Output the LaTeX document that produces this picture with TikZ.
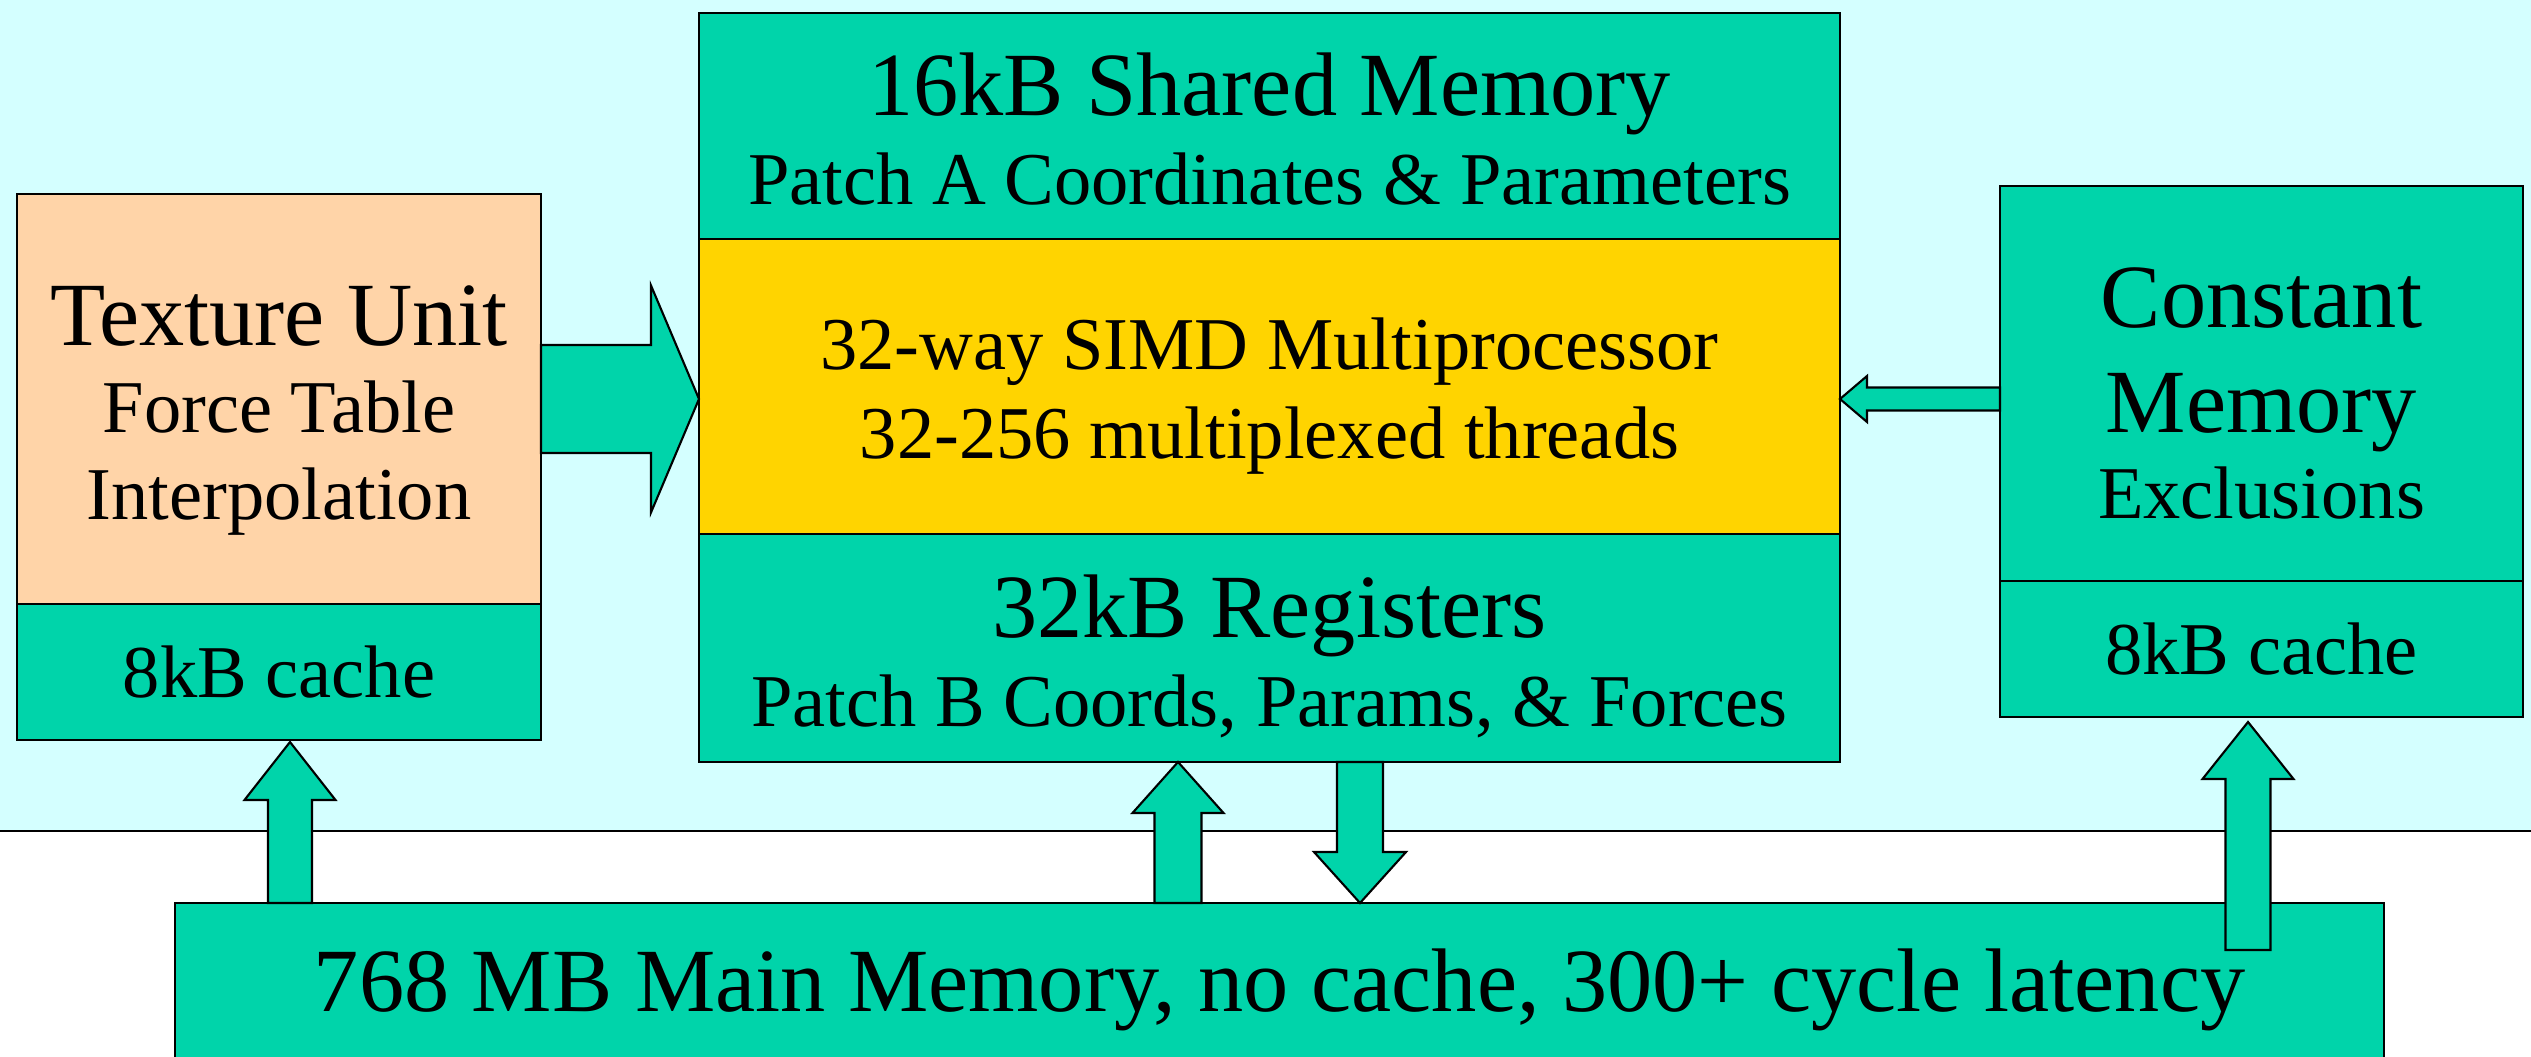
\documentclass[tikz,border=0pt]{standalone}
\usepackage{fontspec}
\setmainfont{Liberation Serif}
\usetikzlibrary{calc,positioning}

\definecolor{bandcyan}{RGB}{212,255,255}
\definecolor{memteal}{RGB}{0,212,170}
\definecolor{simdgold}{RGB}{255,212,0}
\definecolor{texpeach}{RGB}{255,212,168}

\newcommand{\bigline}{\fontsize{25.7pt}{25.3pt}\selectfont}
\newcommand{\smallline}{\fontsize{21.2pt}{25.3pt}\selectfont}
% invisible strut on a first line, pushes the text block down by #1
\newcommand{\lowerby}[1]{\rule{0pt}{\dimexpr\fontcharht\font`k+2\dimexpr#1\relax\relax}}

% block arrow: tail, tip, shaft half width, head half width, head length
\newcommand{\fatarrow}[5]{%
  \coordinate (neck) at ($(#2)!#5!(#1)$);
  \filldraw[memarrow] ($(#1)!#3!90:(#2)$) -- ($(neck)!#3!90:(#2)$)
    -- ($(neck)!#4!90:(#2)$) -- (#2) -- ($(neck)!#4!-90:(#2)$)
    -- ($(neck)!#3!-90:(#2)$) -- ($(#1)!#3!-90:(#2)$) -- cycle;
}

\begin{document}
\begin{tikzpicture}[
    box/.style = {draw, fill=memteal, line width=0.6pt, inner sep=0pt,
              outer sep=0pt, align=center, font=\smallline},
    memarrow/.style = {fill=memteal, draw=black, line width=0.6pt},
    ]

\clip (0,0) rectangle (25.31,10.56);
\fill[bandcyan] (0,2.25) rectangle (25.31,10.56);
\draw[line width=0.6pt] (0,2.25) -- (25.31,2.25);

\node[box, fill=texpeach, minimum width=5.24cm, minimum height=4.10cm] (texture) at (2.79,6.57)
    {{\bigline\lowerby{0.12cm}Texture Unit}\\[-0.02cm]Force Table\\[-0.02cm]Interpolation};
\node[box, minimum width=5.24cm, minimum height=1.36cm, below=0pt of texture] (texcache) {8kB cache};

\node[box, minimum width=11.41cm, minimum height=2.26cm] (shared) at (12.695,9.30)
    {{\bigline\lowerby{0.05cm}16kB Shared Memory}\\Patch A Coordinates \& Parameters};
\node[box, fill=simdgold, minimum width=11.41cm, minimum height=2.95cm, below=0pt of shared] (simd)
    {\lowerby{0.11cm}32-way SIMD Multiprocessor\\32-256 multiplexed threads};
\node[box, minimum width=11.41cm, minimum height=2.28cm, below=0pt of simd] (registers)
    {{\bigline\lowerby{0.1cm}32kB Registers}\\Patch B Coords, Params, \& Forces};

\node[box, minimum width=5.23cm, minimum height=3.95cm] (constant) at (22.615,6.725)
    {{\bigline\lowerby{0.1cm}Constant}\\[0.16cm]{\bigline Memory}\\[-0.03cm]Exclusions};
\node[box, minimum width=5.23cm, minimum height=1.36cm, below=0pt of constant] (constcache) {8kB cache};

\node[box, minimum width=22.09cm, minimum height=1.74cm, font=\bigline] (main) at (12.795,0.66)
    {768 MB Main Memory, no cache, 300+ cycle latency};

\coordinate (texin) at (texture.east -| simd.west);
\coordinate (constout) at (constant.west |- texture.east);
\coordinate (constin) at (simd.east |- texture.east);
\coordinate (texfeed) at ($(texcache.south)+(0.11,-0.02)$);
\coordinate (texsrc) at (main.north -| texfeed);
\coordinate (regfeed) at ($(registers.south)+(-0.915,0)$);
\coordinate (regsrc) at (main.north -| regfeed);
\coordinate (regout) at ($(registers.south)+(0.905,0)$);
\coordinate (mainin) at (main.north -| regout);
\coordinate (constfeed) at ($(constcache.south)+(-0.135,-0.05)$);
\coordinate (constsrc) at ($(main.north -| constfeed)+(0,-0.47)$);

\fatarrow{texture.east}{texin}{0.54cm}{1.135cm}{0.48cm}
\fatarrow{constout}{constin}{0.115cm}{0.23cm}{0.27cm}
\fatarrow{texsrc}{texfeed}{0.22cm}{0.455cm}{0.58cm}
\fatarrow{regsrc}{regfeed}{0.235cm}{0.455cm}{0.51cm}
\fatarrow{registers.south -| regout}{mainin}{0.23cm}{0.46cm}{0.51cm}
\fatarrow{constsrc}{constfeed}{0.225cm}{0.455cm}{0.57cm}

\end{tikzpicture}
\end{document}
